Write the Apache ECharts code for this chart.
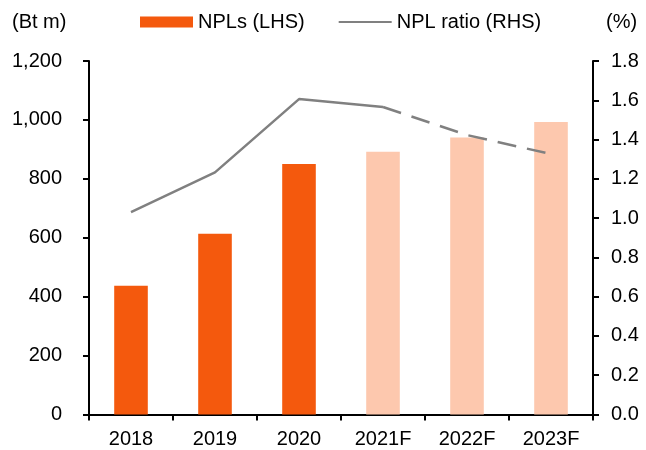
<!DOCTYPE html>
<html>
<head>
<meta charset="utf-8">
<script src="https://cdn.jsdelivr.net/npm/echarts@6/dist/echarts.min.js"></script>
<style>
html,body{margin:0;padding:0;background:#fff;}
#c{width:646px;height:450px;}
</style>
</head>
<body>
<div id="c"></div>
<script>
const categories = ['2018', '2019', '2020', '2021F', '2022F', '2023F'];
const nplValues = [437, 614, 850, 892, 940, 993];
const nplForecast = [false, false, false, true, true, true];
const ratioActual = [1.03, 1.233, 1.606, 1.566, null, null];
const ratioForecast = [null, null, null, 1.566, 1.423, 1.326];
const leftTicks = { min: 0, max: 1200, interval: 200 };
const rightTicks = { min: 0, max: 1.8, interval: 0.2 };

const FONT = 'Liberation Sans, Arial, sans-serif';
const FS = 20;
const ORANGE = '#F4590D';
const PEACH = '#FDC8AE';
const GREY = '#808080';

const chart = echarts.init(document.getElementById('c'), null, { renderer: 'canvas' });

const axisCommon = {
  axisLine: { show: true, lineStyle: { color: '#000', width: 2 } },
  axisTick: { show: true, length: 6, lineStyle: { color: '#000', width: 2 } },
  splitLine: { show: false },
};

chart.setOption({
  animation: false,
  backgroundColor: '#fff',
  textStyle: { fontFamily: FONT },
  grid: { left: 89, right: 53, top: 61, bottom: 35.5, containLabel: false },
  legend: {
    left: 140, top: 12, padding: 0,
    itemWidth: 53, itemHeight: 11, itemGap: 33,
    textStyle: { fontFamily: FONT, fontSize: FS, color: '#000' },
    data: [
      { name: 'NPLs (LHS)', icon: 'rect', itemStyle: { color: ORANGE } },
      { name: 'NPL ratio (RHS)', itemStyle: { color: 'rgba(0,0,0,0)', opacity: 0, borderWidth: 0 } }
    ]
  },
  graphic: [
    { type: 'text', left: 12, top: 12, style: { text: '(Bt m)', font: FS + 'px ' + FONT, fill: '#000' } },
    { type: 'text', left: 606, top: 12, style: { text: '(%)', font: FS + 'px ' + FONT, fill: '#000' } }
  ],
  xAxis: Object.assign({
    type: 'category',
    data: categories,
    axisLabel: { fontFamily: FONT, fontSize: FS, color: '#000', margin: 15 },
  }, axisCommon),
  yAxis: [
    Object.assign({
      type: 'value',
      min: leftTicks.min, max: leftTicks.max, interval: leftTicks.interval,
      axisLabel: {
        fontFamily: FONT, fontSize: FS, color: '#000', margin: 27,
        formatter: v => v.toLocaleString('en-US')
      },
    }, axisCommon),
    Object.assign({
      type: 'value',
      position: 'right',
      min: rightTicks.min, max: rightTicks.max, interval: rightTicks.interval,
      axisLabel: {
        fontFamily: FONT, fontSize: FS, color: '#000', margin: 18,
        formatter: v => v.toFixed(1)
      },
    }, axisCommon)
  ],
  series: [
    {
      name: 'NPLs (LHS)',
      type: 'bar',
      barWidth: '40%',
      itemStyle: { color: ORANGE },
      data: nplValues.map((v, i) => ({ value: v, itemStyle: { color: nplForecast[i] ? PEACH : ORANGE } }))
    },
    {
      name: 'NPL ratio (RHS)',
      type: 'line',
      yAxisIndex: 1,
      symbol: 'none',
      lineStyle: { color: GREY, width: 2.5 },
      itemStyle: { color: GREY },
      data: ratioActual,
      z: 3
    },
    {
      name: 'NPL ratio (RHS)',
      type: 'line',
      yAxisIndex: 1,
      symbol: 'none',
      lineStyle: { color: GREY, width: 2.5, type: [19, 11] },
      itemStyle: { color: GREY },
      data: ratioForecast,
      z: 3
    }
  ]
});
</script>
</body>
</html>
